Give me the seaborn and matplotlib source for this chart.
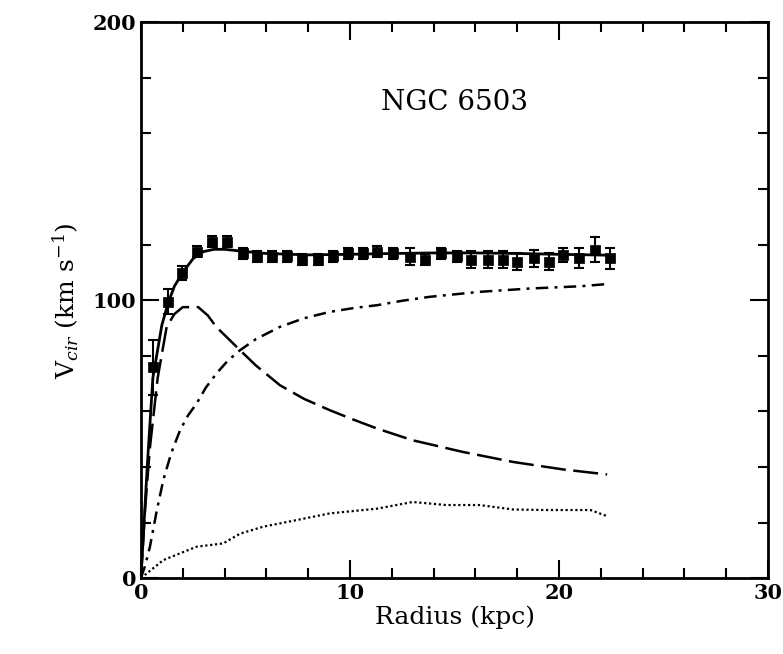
import numpy as np
import pandas as pd
import matplotlib
matplotlib.use('Agg')
import matplotlib.pyplot as plt
from matplotlib.ticker import MultipleLocator
import seaborn as sns

radius_obs = [0.57, 1.3, 1.95, 2.66, 3.38, 4.1, 4.9, 5.53, 6.25, 6.97, 7.69, 8.48, 9.2, 9.92,
              10.6, 11.3, 12.05, 12.85, 13.6, 14.35, 15.1, 15.8, 16.6, 17.3, 18.0, 18.8,
              19.5, 20.2, 20.95, 21.7, 22.45]
v_obs = [75.8, 99.4, 109.7, 117.4, 121.0, 121.0, 116.8, 115.6, 115.6, 115.8, 114.6, 114.6,
         115.8, 116.8, 116.8, 117.4, 116.8, 115.6, 114.6, 116.8, 115.8, 114.6, 114.6, 114.6,
         113.8, 115.0, 113.8, 116.2, 115.0, 118.2, 115.0]
v_err = [10, 4.5, 2.5, 2, 2, 2, 2, 2, 2, 2, 2, 2, 2, 2, 2, 2, 2, 3, 2, 2, 2, 3, 3, 3,
         3, 3, 3, 2.5, 3.6, 4.5, 3.9]

# model components
r_total = [0, 0.3, 0.57, 1.0, 1.3, 1.6, 2.0, 2.5, 3.0, 3.5, 4.0, 5.0, 6.0, 8.0, 10.0,
           12.0, 14.0, 16.0, 18.0, 20.0, 22.3]
v_total = [0, 40, 72, 91, 99, 105, 110, 115, 117.5, 118.3, 118.3, 117.5, 116.8, 116.3,
           116.5, 116.8, 117, 117, 116.8, 116.5, 116.2]

r_disk = [0, 0.2, 0.43, 0.8, 1.23, 1.6, 2.0, 2.74, 3.2, 3.6, 4.2, 4.74, 5.5, 6.65, 7.8,
          9.04, 10.0, 11.3, 13.0, 15.4, 17.8, 20.2, 22.3]
v_disk = [0, 25, 47, 72, 90.4, 95, 97.5, 97.5, 94.5, 90.4, 86, 82, 76.5, 69.4, 64.5,
          60.4, 57.5, 53.8, 49.6, 45.4, 41.8, 39.1, 37.3]

r_halo = [0, 0.2, 0.43, 0.75, 1.07, 1.45, 1.87, 2.25, 2.66, 3.1, 3.62, 4.15, 4.74, 5.5,
          6.65, 7.8, 9.04, 10.2, 11.3, 12.5, 13.8, 16.2, 18.6, 21.0, 22.3]
v_halo = [0, 4.5, 11.3, 24, 35.3, 45, 53.2, 58.5, 62.8, 68.5, 73.7, 78.2, 82, 86,
          90.4, 93.5, 95.8, 97.2, 98.2, 99.8, 101.2, 103, 104.2, 105, 105.8]

r_gas = [0, 1.07, 2.66, 3.94, 4.74, 5.85, 7.45, 9.04, 11.3, 13.0, 14.6, 16.2, 17.8,
         19.4, 21.5, 22.3]
v_gas = [0, 6.5, 11.3, 12.5, 16, 18.5, 20.9, 23.3, 25.0, 27.4, 26.3, 26.3, 24.7,
         24.5, 24.5, 22.3]

sns.set_style('ticks')
plt.rcParams['font.family'] = ['DejaVu Serif', 'DejaVu Sans']
plt.rcParams['mathtext.fontset'] = 'dejavuserif'
plt.rcParams['text.color'] = 'black'
plt.rcParams['axes.labelcolor'] = 'black'
plt.rcParams['xtick.color'] = 'black'
plt.rcParams['ytick.color'] = 'black'
plt.rcParams['axes.edgecolor'] = 'black'

fig = plt.figure(figsize=(7.83, 6.54), dpi=100)
ax = fig.add_axes([0.180, 0.116, 0.801, 0.850])

obs = pd.DataFrame({'r': radius_obs, 'v': v_obs, 'err': v_err})

sns.lineplot(x=r_total, y=v_total, ax=ax, color='black', lw=2.0, sort=False, estimator=None)
sns.lineplot(x=r_disk, y=v_disk, ax=ax, color='black', lw=1.8, sort=False,
             estimator=None).lines[-1].set_dashes((10, 3))
sns.lineplot(x=r_halo, y=v_halo, ax=ax, color='black', lw=1.8, sort=False,
             estimator=None).lines[-1].set_dashes((5, 2.5, 1.2, 2.5))
sns.lineplot(x=r_gas, y=v_gas, ax=ax, color='black', lw=1.6, sort=False,
             estimator=None).lines[-1].set_dashes((1, 1.2))

ax.errorbar(obs['r'], obs['v'], yerr=obs['err'], fmt='none', ecolor='black',
            elinewidth=1.5, capsize=3.5, capthick=1.5)
sns.scatterplot(data=obs, x='r', y='v', ax=ax, marker='s', s=42, color='black',
                edgecolor='black', zorder=5)

ax.set_xlim(0, 30)
ax.set_ylim(0, 200)
ax.xaxis.set_major_locator(MultipleLocator(10))
ax.xaxis.set_minor_locator(MultipleLocator(2))
ax.yaxis.set_major_locator(MultipleLocator(100))
ax.yaxis.set_minor_locator(MultipleLocator(20))
ax.tick_params(which='both', direction='in', top=True, right=True, width=1.5,
               labelsize=15)
ax.tick_params(which='major', length=13)
ax.tick_params(which='minor', length=7)
for s in ax.spines.values():
    s.set_linewidth(2)
for lab in ax.get_xticklabels() + ax.get_yticklabels():
    lab.set_fontweight('bold')

ax.set_xlabel('Radius (kpc)', fontsize=18, labelpad=2)
ax.set_ylabel(r'V$_{cir}$ (km s$^{-1}$)', fontsize=18, labelpad=8)
ax.text(0.50, 0.855, 'NGC 6503', transform=ax.transAxes, ha='center', va='center',
        fontsize=20)

fig.savefig('out.png', dpi=100)
